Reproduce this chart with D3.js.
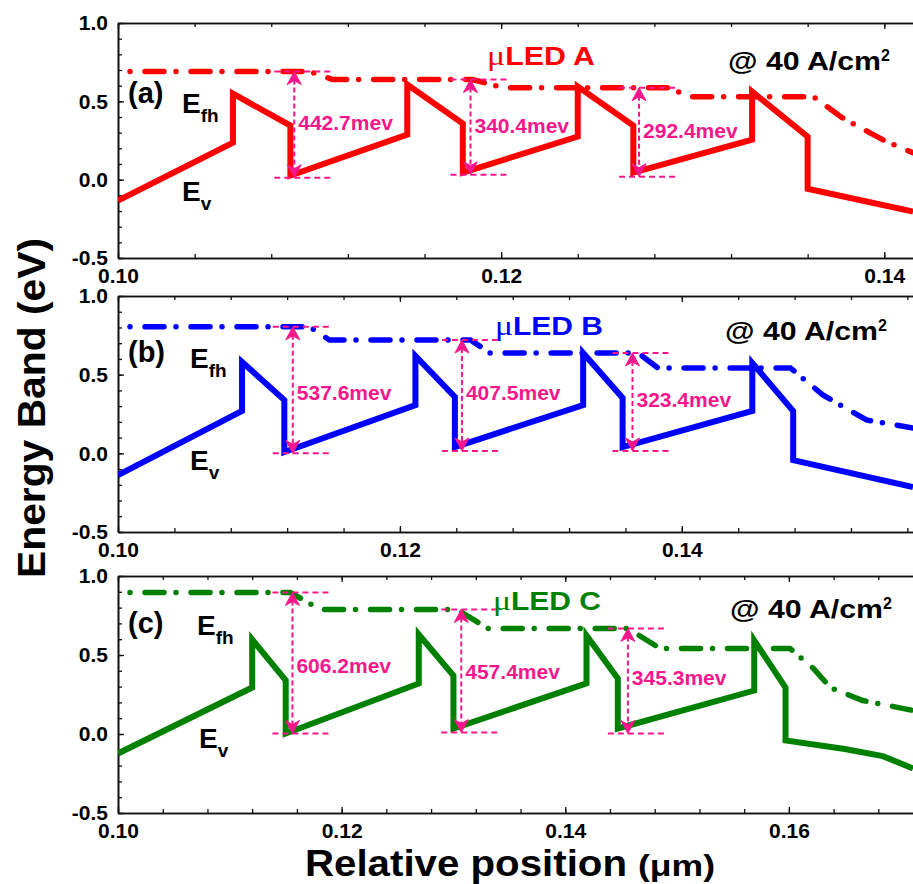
<!DOCTYPE html>
<html>
<head>
<meta charset="utf-8">
<script src="https://cdn.jsdelivr.net/npm/d3@7"></script>
<style>
  body { margin: 0; background: #fff; }
  svg { display: block; }
  text { font-family: Arial, "Liberation Sans", sans-serif; font-weight: bold; }
</style>
</head>
<body>
<svg id="chart" width="913" height="884"></svg>
<script>
// tick values
const xTickVals = [0.10, 0.12, 0.14, 0.16];
const yTickVals = [-0.5, 0.0, 0.5, 1.0];

// uLED A (red) : [position um, energy eV]
const evA = [[0.1000,-0.134],[0.1060,0.236],[0.1060,0.549],[0.1090,0.345],[0.1090,0.026],[0.1151,0.287],[0.1151,0.607],[0.1180,0.358],[0.1180,0.045],[0.1240,0.275],[0.1240,0.594],[0.1269,0.345],[0.1269,0.045],[0.1331,0.255],[0.1331,0.562],[0.1360,0.275],[0.1360,-0.058],[0.1415,-0.204]];
const efhA = [[0.1000,0.690],[0.1100,0.690],[0.1112,0.639],[0.1185,0.639],[0.1201,0.587],[0.1288,0.587],[0.1298,0.530],[0.1363,0.530],[0.1378,0.396],[0.1401,0.243],[0.1415,0.172]];
// [arrow x, top E, bottom E, label, label E]
const gapsA = [[0.1092,0.690,0.013,"442.7mev",0.319],[0.1184,0.639,0.032,"340.4mev",0.300],[0.1272,0.587,0.019,"292.4mev",0.268]];

// uLED B (blue)
const evB = [[0.1000,-0.138],[0.1088,0.269],[0.1088,0.581],[0.1118,0.339],[0.1118,0.008],[0.1211,0.307],[0.1211,0.619],[0.1239,0.358],[0.1239,0.040],[0.1330,0.307],[0.1330,0.638],[0.1358,0.352],[0.1358,0.040],[0.1450,0.269],[0.1450,0.574],[0.1479,0.269],[0.1479,-0.043],[0.1564,-0.214]];
const efhB = [[0.1000,0.804],[0.1136,0.804],[0.1150,0.720],[0.1250,0.720],[0.1264,0.638],[0.1369,0.638],[0.1383,0.543],[0.1477,0.543],[0.1500,0.371],[0.1531,0.212],[0.1564,0.161]];
const gapsB = [[0.1124,0.804,0.000,"537.6mev",0.339],[0.1244,0.720,0.015,"407.5mev",0.339],[0.1365,0.638,0.015,"323.4mev",0.294]];

// uLED C (green)
const evC = [[0.1000,-0.123],[0.1120,0.294],[0.1120,0.598],[0.1150,0.339],[0.1150,0.003],[0.1269,0.320],[0.1269,0.630],[0.1300,0.370],[0.1300,0.035],[0.1419,0.320],[0.1419,0.623],[0.1447,0.351],[0.1447,0.035],[0.1569,0.275],[0.1569,0.592],[0.1597,0.294],[0.1597,-0.041],[0.1650,-0.095],[0.1684,-0.140],[0.1711,-0.218]];
const efhC = [[0.1000,0.896],[0.1154,0.896],[0.1181,0.788],[0.1303,0.788],[0.1331,0.668],[0.1456,0.668],[0.1485,0.541],[0.1601,0.541],[0.1622,0.415],[0.1637,0.294],[0.1666,0.212],[0.1711,0.149]];
const gapsC = [[0.1156,0.896,0.003,"606.2mev",0.389],[0.1307,0.788,0.009,"457.4mev",0.351],[0.1456,0.668,0.003,"345.3mev",0.307]];

const pink = "#f7168b";
const W = 913;

const panels = [
  { tag: "(a)", name: "A", color: "#ff0000", top: 23, bottom: 258, xMax: 0.1415, ev: evA, efh: efhA, gaps: gapsA,
    tagPos: [128, 103], efhPos: [182, 113], evPos: [182, 201], namePos: [487, 65], condPos: [728, 70] },
  { tag: "(b)", name: "B", color: "#0000ff", top: 296, bottom: 532, xMax: 0.1564, ev: evB, efh: efhB, gaps: gapsB,
    tagPos: [128, 362], efhPos: [190, 368], evPos: [190, 470], namePos: [495, 335], condPos: [725, 340] },
  { tag: "(c)", name: "C", color: "#008000", top: 576, bottom: 813, xMax: 0.1711, ev: evC, efh: efhC, gaps: gapsC,
    tagPos: [128, 633], efhPos: [197, 635], evPos: [199, 748], namePos: [493, 610], condPos: [730, 618] }
];

const svg = d3.select("#chart");
const left = 118;

panels.forEach((p, i) => {
  const x = d3.scaleLinear().domain([0.10, p.xMax]).range([left, W]);
  const y = d3.scaleLinear().domain([-0.5, 1.0]).range([p.bottom, p.top]);
  const g = svg.append("g");

  const xMajor = xTickVals.filter(v => v <= p.xMax);
  const xMinor = d3.range(0.10, p.xMax, 0.004);
  const yMinor = d3.range(-0.5, 1.001, 0.1);

  // axes, ticks inward
  const axes = [
    [d3.axisBottom(x).tickValues(xMajor).tickFormat(d => d.toFixed(2)).tickSize(-6).tickPadding(10), `translate(0,${p.bottom})`],
    [d3.axisBottom(x).tickValues(xMinor).tickFormat("").tickSize(-4), `translate(0,${p.bottom})`],
    [d3.axisTop(x).tickValues(xMajor).tickFormat("").tickSize(-6), `translate(0,${p.top})`],
    [d3.axisTop(x).tickValues(xMinor).tickFormat("").tickSize(-4), `translate(0,${p.top})`],
    [d3.axisLeft(y).tickValues(yTickVals).tickFormat(d => d.toFixed(1)).tickSize(-6).tickPadding(10), `translate(${left},0)`],
    [d3.axisLeft(y).tickValues(yMinor).tickFormat("").tickSize(-4), `translate(${left},0)`]
  ];
  axes.forEach(([ax, tr]) => {
    const a = g.append("g").attr("transform", tr).call(ax.tickSizeOuter(0));
    a.select(".domain").attr("stroke", "#111").attr("stroke-width", 1.6);
    a.selectAll(".tick line").attr("stroke", "#111").attr("stroke-width", 1.3);
    a.selectAll("text").attr("font-size", 21).attr("fill", "#000")
      .attr("font-family", "Arial, 'Liberation Sans', sans-serif").attr("font-weight", "bold");
  });

  // clip
  const cid = "clip" + i;
  svg.append("clipPath").attr("id", cid).append("rect")
    .attr("x", left).attr("y", p.top).attr("width", W - left).attr("height", p.bottom - p.top);

  const line = d3.line().x(d => x(d[0])).y(d => y(d[1]));

  g.append("path").datum(p.efh)
    .attr("clip-path", `url(#${cid})`)
    .attr("d", line).attr("fill", "none").attr("stroke", p.color)
    .attr("stroke-width", 5.5).attr("stroke-linecap", "round")
    .attr("stroke-dasharray", "19,12,0,15").attr("stroke-dashoffset", 19);

  g.append("path").datum(p.ev)
    .attr("clip-path", `url(#${cid})`)
    .attr("d", line).attr("fill", "none").attr("stroke", p.color)
    .attr("stroke-width", 6).attr("stroke-linejoin", "miter").attr("stroke-miterlimit", 10);

  // band-gap annotations
  p.gaps.forEach(([gx, top, bot, label, ly]) => {
    const px = x(gx), yt = y(top), yb = y(bot);
    const ann = g.append("g");
    [yt, yb].forEach(yy => {
      ann.append("line").attr("x1", px - 20).attr("x2", px + 36).attr("y1", yy).attr("y2", yy)
        .attr("stroke", pink).attr("stroke-width", 2).attr("stroke-dasharray", "6,4");
    });
    ann.append("line").attr("x1", px).attr("x2", px).attr("y1", yt + 8).attr("y2", yb - 8)
      .attr("stroke", pink).attr("stroke-width", 2).attr("stroke-dasharray", "5,3");
    ann.append("path").attr("d", `M${px},${yt} l-7,13 l7,-4 l7,4 Z`).attr("fill", pink)
      .attr("stroke", pink).attr("stroke-width", 1).attr("stroke-linejoin", "round");
    ann.append("path").attr("d", `M${px},${yb} l-7,-13 l7,4 l7,-4 Z`).attr("fill", pink)
      .attr("stroke", pink).attr("stroke-width", 1).attr("stroke-linejoin", "round");
    ann.append("text").attr("x", px + 4).attr("y", y(ly)).attr("font-size", 21)
      .attr("fill", pink).text(label);
  });

  // labels
  g.append("text").attr("x", p.tagPos[0]).attr("y", p.tagPos[1]).attr("font-size", 29).text(p.tag);

  const efhT = g.append("text").attr("x", p.efhPos[0]).attr("y", p.efhPos[1]).attr("font-size", 28);
  efhT.append("tspan").text("E");
  efhT.append("tspan").attr("font-size", 19).attr("dy", 9).text("fh");

  const evT = g.append("text").attr("x", p.evPos[0]).attr("y", p.evPos[1]).attr("font-size", 28);
  evT.append("tspan").text("E");
  evT.append("tspan").attr("font-size", 19).attr("dy", 9).text("v");

  const nameT = g.append("text").attr("x", p.namePos[0]).attr("y", p.namePos[1])
    .attr("font-size", 25).attr("fill", p.color)
    .attr("textLength", 108).attr("lengthAdjust", "spacingAndGlyphs");
  nameT.append("tspan").attr("font-family", "'Liberation Serif', 'Times New Roman', serif")
    .attr("font-weight", "normal").attr("font-size", 28).text("\u03bc");
  nameT.append("tspan").text("LED " + p.name);

  const condT = g.append("text").attr("x", p.condPos[0]).attr("y", p.condPos[1]).attr("font-size", 25);
  condT.append("tspan").attr("textLength", 153).attr("lengthAdjust", "spacingAndGlyphs").text("@ 40 A/cm");
  condT.append("tspan").attr("font-size", 16).attr("dy", -9).text("2");
});

// axis titles
svg.append("text").attr("transform", "translate(45,408) rotate(-90)")
  .attr("text-anchor", "middle").attr("font-size", 39)
  .attr("textLength", 340).attr("lengthAdjust", "spacingAndGlyphs").text("Energy Band (eV)");

const xt = svg.append("text").attr("x", 305).attr("y", 876).attr("font-size", 36);
xt.append("tspan").attr("textLength", 322).attr("lengthAdjust", "spacingAndGlyphs").text("Relative position");
xt.append("tspan").attr("dx", 11).attr("font-size", 30)
  .attr("textLength", 77).attr("lengthAdjust", "spacingAndGlyphs").text("(\u03bcm)");
</script>
</body>
</html>
